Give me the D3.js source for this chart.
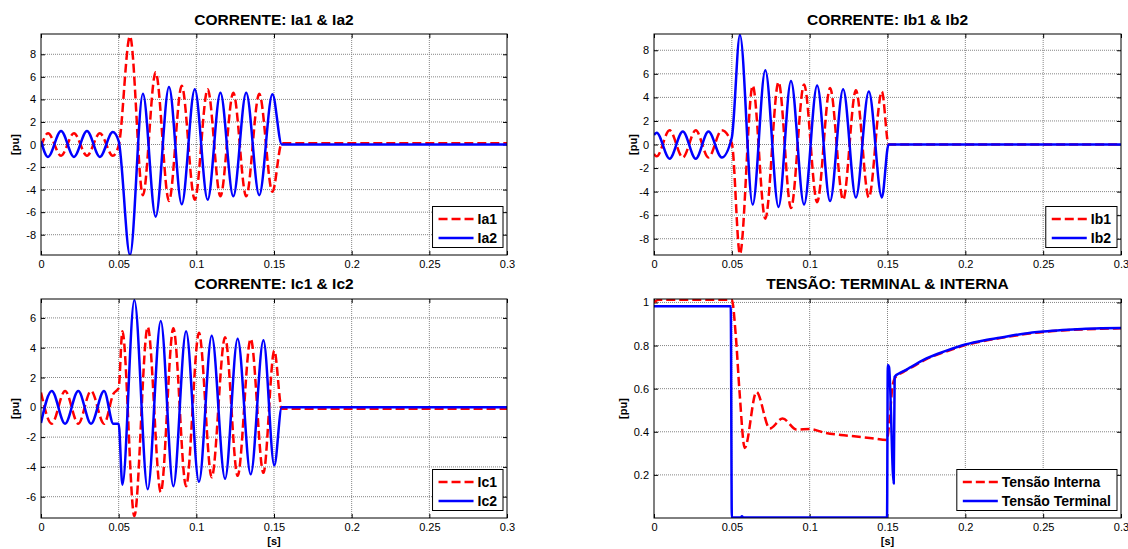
<!DOCTYPE html>
<meta charset="utf-8">
<style>
body { margin: 0; background: #fff; }
svg text { font-family: Arial, "Liberation Sans", sans-serif; fill: #000; }
.title { font-size: 15.5px; font-weight: bold; }
.axis-label { font-size: 11px; font-weight: bold; }
.legend text { font-size: 14px; font-weight: bold; }
.grid line { stroke: #858585; stroke-width: 1px; stroke-dasharray: 1,1; }
</style>
<svg width="1128" height="549"></svg>
<script src="https://d3js.org/d3.v7.min.js"></script>
<script>

// tick values
var xTicks = [0, 0.05, 0.1, 0.15, 0.2, 0.25, 0.3];
var yTicksAB = [-8, -6, -4, -2, 0, 2, 4, 6, 8];
var yTicksC = [-6, -4, -2, 0, 2, 4, 6];
var yTicksV = [0.2, 0.4, 0.6, 0.8, 1];

// phase a currents: peaks [s] / [pu]
var tA  = [0, 0.0045, 0.0129, 0.0212, 0.0296, 0.0379, 0.0462, 0.0500, 0.0573, 0.0656, 0.0738, 0.0824, 0.0906, 0.0990, 0.1073, 0.1155, 0.1238, 0.1321, 0.1405, 0.1490, 0.1550, 0.1600, 0.3000];
var ia1 = [-0.2, 1.0, -1.0, 1.0, -1.0, 1.0, -1.0, -0.1, 9.6, -4.5, 6.4, -5.0, 5.2, -4.9, 4.9, -4.6, 4.6, -4.6, 4.5, -4.2, 0.1, 0.1, 0.1];
var ia2 = [0.3, -1.1, 1.2, -1.1, 1.2, -1.1, 1.1, 0.3, -9.8, 4.5, -6.4, 5.1, -5.3, 4.9, -4.9, 4.6, -4.6, 4.6, -4.5, 4.45, 0, 0, 0];

// phase b currents
var tB  = [0, 0.0017, 0.0100, 0.0185, 0.0268, 0.0350, 0.0435, 0.0500, 0.0552, 0.0634, 0.0715, 0.0800, 0.0880, 0.0964, 0.1048, 0.1131, 0.1215, 0.1297, 0.1380, 0.1464, 0.1507, 0.1550, 0.3000];
var ib1 = [-0.8, -1.0, 1.2, -1.1, 1.2, -1.1, 1.2, 0.1, -9.3, 5.0, -6.3, 5.3, -5.4, 5.1, -4.9, 4.8, -4.7, 4.6, -4.5, 4.5, 0, 0, 0];
var ib2 = [0.8, 1.0, -1.2, 1.1, -1.2, 1.1, -1.1, 0.6, 9.3, -5.1, 6.3, -5.3, 5.4, -5.1, 5.0, -4.8, 4.7, -4.5, 4.5, -4.5, 0, 0, 0];

// phase c currents
var tC  = [0, 0.0069, 0.0155, 0.0240, 0.0322, 0.0406, 0.0466, 0.0500, 0.0524, 0.0601, 0.0687, 0.0771, 0.0852, 0.0934, 0.1017, 0.1099, 0.1185, 0.1266, 0.1350, 0.1432, 0.1502, 0.1550, 0.3000];
var ic1 = [1.0, -1.1, 1.1, -1.1, 1.1, -1.1, 0.9, 1.3, 5.1, -7.3, 5.4, -5.7, 5.3, -5.3, 5.0, -4.7, 4.7, -4.6, 4.6, -4.4, 3.8, -0.1, -0.1];
var ic2 = [-1.05, 1.1, -1.1, 1.1, -1.1, 1.1, -1.1, -1.1, -5.2, 7.2, -5.5, 5.8, -5.3, 5.1, -5.0, 4.8, -4.8, 4.6, -4.5, 4.5, -3.9, 0, 0];

// voltages
var tInt = [0, 0.0030, 0.0500, 0.0525, 0.0550, 0.0583, 0.0658, 0.0744, 0.0826, 0.0916, 0.1000, 0.1100, 0.1200, 0.1300, 0.1400, 0.1495, 0.1515, 0.1530, 0.1548, 0.1600, 0.1650, 0.1750, 0.1875, 0.2000, 0.2125, 0.2250, 0.2375, 0.2500, 0.2625, 0.2750, 0.2875, 0.3000];
var vInt = [1.0, 1.012, 1.012, 0.85, 0.58, 0.325, 0.585, 0.415, 0.462, 0.41, 0.413, 0.395, 0.385, 0.378, 0.37, 0.362, 0.47, 0.6, 0.65, 0.677, 0.697, 0.737, 0.772, 0.802, 0.822, 0.838, 0.852, 0.863, 0.87, 0.875, 0.878, 0.88];
var tTerm = [0, 0.0493, 0.0500, 0.0555, 0.0565, 0.0575, 0.1497, 0.1502, 0.1510, 0.1540, 0.1546, 0.1600, 0.1650, 0.1750, 0.1875, 0.2000, 0.2125, 0.2250, 0.2375, 0.2500, 0.2625, 0.2750, 0.2875, 0.3000];
var vTerm = [0.982, 0.982, 0.002, 0.002, 0.008, 0.002, 0.002, 0.71, 0.70, 0.16, 0.655, 0.68, 0.70, 0.74, 0.775, 0.805, 0.825, 0.84, 0.855, 0.865, 0.872, 0.877, 0.88, 0.882];

var RED = "#ff0000", BLUE = "#0000ff";

var svg = d3.select("svg");

var panels = [
  {left: 41, right: 507, top: 34, bottom: 255, ydom: [-9.8, 9.8], yticks: yTicksAB, ylabX: 19,
   title: "CORRENTE: Ia1 & Ia2", titleY: 25, xlabel: false,
   series: [{t: tA, v: ia1, name: "Ia1", color: RED, dash: true}, {t: tA, v: ia2, name: "Ia2", color: BLUE}]},
  {left: 654, right: 1121, top: 34, bottom: 255, ydom: [-9.38, 9.38], yticks: yTicksAB, ylabX: 637,
   title: "CORRENTE: Ib1 & Ib2", titleY: 25, xlabel: false,
   series: [{t: tB, v: ib1, name: "Ib1", color: RED, dash: true}, {t: tB, v: ib2, name: "Ib2", color: BLUE}]},
  {left: 41, right: 507, top: 299, bottom: 518, ydom: [-7.43, 7.27], yticks: yTicksC, ylabX: 19,
   title: "CORRENTE: Ic1 & Ic2", titleY: 289, xlabel: true,
   series: [{t: tC, v: ic1, name: "Ic1", color: RED, dash: true}, {t: tC, v: ic2, name: "Ic2", color: BLUE}]},
  {left: 654, right: 1121, top: 299, bottom: 518, ydom: [0, 1.016], yticks: yTicksV, ylabX: 627,
   title: "TENSÃO: TERMINAL & INTERNA", titleY: 289, xlabel: true,
   series: [{t: tInt, v: vInt, name: "Tensão Interna", color: RED, dash: true}, {t: tTerm, v: vTerm, name: "Tensão Terminal", color: BLUE}]}
];

function styleAxis(g) {
  g.select(".domain").remove();
  g.attr("font-size", 11).attr("font-family", "Arial, 'Liberation Sans', sans-serif");
  g.selectAll(".tick line").attr("stroke", "#000");
}

panels.forEach(function(p, i) {
  var x = d3.scaleLinear().domain([0, 0.3]).range([p.left, p.right]),
      y = d3.scaleLinear().domain(p.ydom).range([p.bottom, p.top]);

  var g = svg.append("g");

  g.append("clipPath").attr("id", "clip" + i)
    .append("rect")
      .attr("x", p.left).attr("y", p.top)
      .attr("width", p.right - p.left).attr("height", p.bottom - p.top);

  // grid
  var grid = g.append("g").attr("class", "grid");
  grid.selectAll(".gx").data(xTicks.slice(1, -1)).enter().append("line")
      .attr("x1", function(d) { return x(d); }).attr("x2", function(d) { return x(d); })
      .attr("y1", p.top).attr("y2", p.bottom);
  grid.selectAll(".gy").data(p.yticks).enter().append("line")
      .attr("x1", p.left).attr("x2", p.right)
      .attr("y1", function(d) { return y(d); }).attr("y2", function(d) { return y(d); });

  // axes, ticks pointing inside
  g.append("g").attr("transform", "translate(0," + p.bottom + ")")
      .call(d3.axisBottom(x).tickValues(xTicks).tickSize(-4).tickPadding(5).tickFormat(String))
      .call(styleAxis);
  g.append("g").attr("transform", "translate(0," + p.top + ")")
      .call(d3.axisTop(x).tickValues(xTicks).tickSize(-4).tickFormat(""))
      .call(styleAxis);
  g.append("g").attr("transform", "translate(" + p.left + ",0)")
      .call(d3.axisLeft(y).tickValues(p.yticks).tickSize(-4).tickPadding(5).tickFormat(String))
      .call(styleAxis);
  g.append("g").attr("transform", "translate(" + p.right + ",0)")
      .call(d3.axisRight(y).tickValues(p.yticks).tickSize(-4).tickFormat(""))
      .call(styleAxis);

  // curves
  var line = d3.line()
      .x(function(d) { return x(d[0]); })
      .y(function(d) { return y(d[1]); })
      .curve(d3.curveMonotoneX);

  g.append("g").attr("clip-path", "url(#clip" + i + ")")
    .selectAll("path").data(p.series).enter().append("path")
      .attr("d", function(s) { return line(d3.zip(s.t, s.v)); })
      .attr("fill", "none")
      .attr("stroke", function(s) { return s.color; })
      .attr("stroke-width", 2.5)
      .attr("stroke-linejoin", "round")
      .attr("stroke-dasharray", function(s) { return s.dash ? "9,4" : null; });

  // box
  g.append("rect")
      .attr("x", p.left).attr("y", p.top)
      .attr("width", p.right - p.left).attr("height", p.bottom - p.top)
      .attr("fill", "none").attr("stroke", "#000");

  // labels
  g.append("text").attr("class", "title")
      .attr("x", (p.left + p.right) / 2).attr("y", p.titleY)
      .attr("text-anchor", "middle").text(p.title);
  g.append("text").attr("class", "axis-label")
      .attr("transform", "translate(" + p.ylabX + "," + (p.top + p.bottom) / 2 + ") rotate(-90)")
      .attr("text-anchor", "middle").text("[pu]");
  if (p.xlabel) {
    g.append("text").attr("class", "axis-label")
        .attr("x", (p.left + p.right) / 2).attr("y", 545)
        .attr("text-anchor", "middle").text("[s]");
  }

  // legend
  var leg = g.append("g").attr("class", "legend");
  var box = leg.append("rect").attr("fill", "#fff").attr("stroke", "#000");
  var items = leg.selectAll(".item").data(p.series).enter().append("g")
      .attr("transform", function(s, k) { return "translate(0," + (12 + k * 19) + ")"; });
  items.append("line")
      .attr("x1", 6).attr("x2", 41)
      .attr("stroke", function(s) { return s.color; })
      .attr("stroke-width", 2.5)
      .attr("stroke-dasharray", function(s) { return s.dash ? "9,4" : null; });
  items.append("text").attr("x", 45).attr("dy", "0.36em").text(function(s) { return s.name; });
  var tw = d3.max(items.selectAll("text").nodes(), function(n) { return n.getComputedTextLength(); });
  var lw = 45 + tw + 6, lh = 41;
  box.attr("width", lw).attr("height", lh).attr("y", -0.5);
  leg.attr("transform", "translate(" + (p.right - 4 - lw) + "," + (p.bottom - 7 - lh) + ")");
});

</script>
